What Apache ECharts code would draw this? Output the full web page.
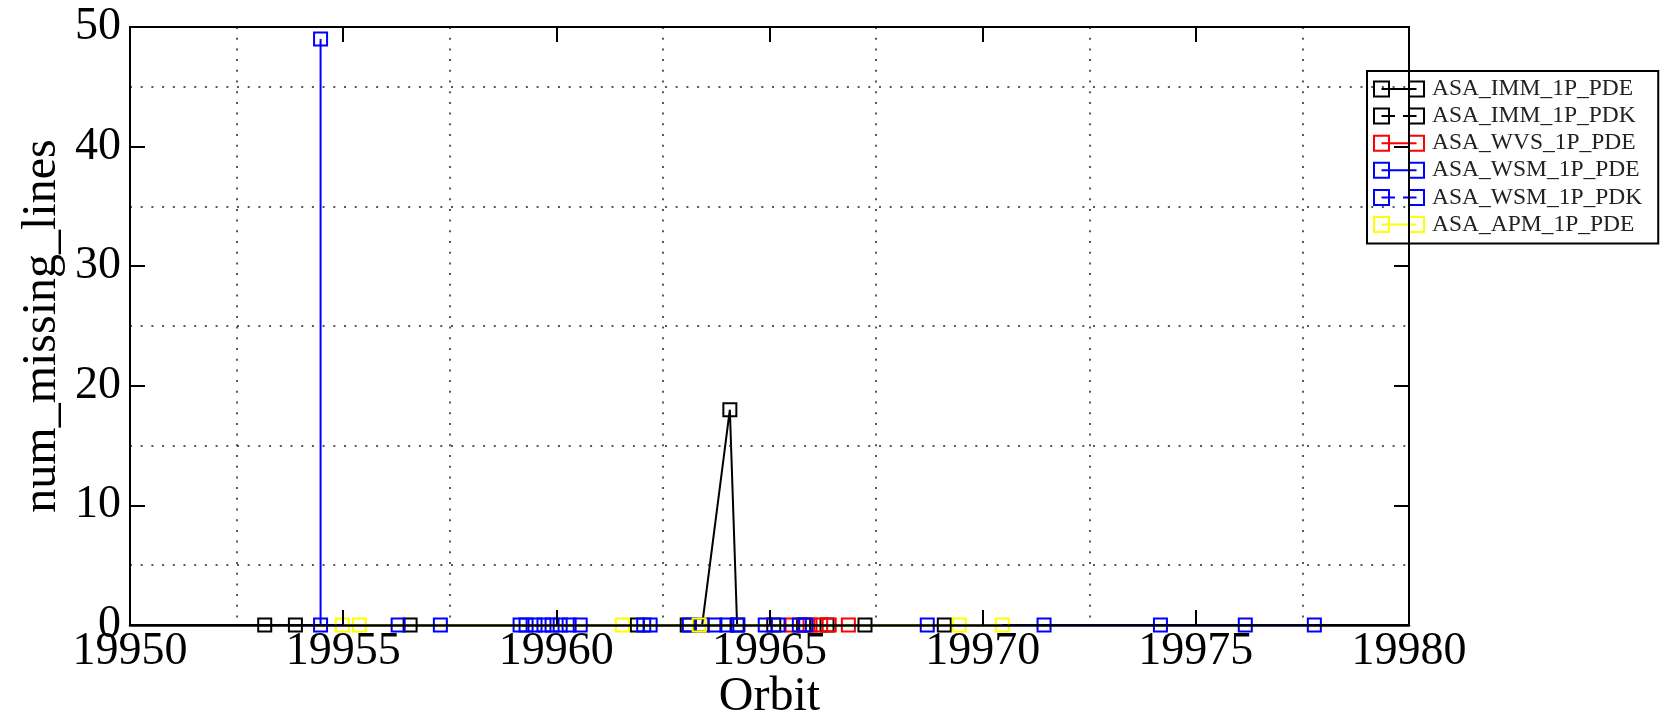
<!DOCTYPE html>
<html><head><meta charset="utf-8">
<script src="https://cdn.jsdelivr.net/npm/echarts@6/dist/echarts.min.js"></script>
<style>html,body{margin:0;padding:0;background:#fff}#c{width:1662px;height:724px}</style>
</head><body><div id="c"></div>
<script>
// ---- data ----
const xTickLabels = [19950, 19955, 19960, 19965, 19970, 19975, 19980];
const yTickLabels = [0, 10, 20, 30, 40, 50];

const seriesNames  = ['ASA_IMM_1P_PDE','ASA_IMM_1P_PDK','ASA_WVS_1P_PDE','ASA_WSM_1P_PDE','ASA_WSM_1P_PDK','ASA_APM_1P_PDE'];
const seriesColors = ['#000000','#000000','#ff0000','#0000ff','#0000ff','#ffff00'];
const seriesDashed = [false, true, false, false, true, false];

const immPdeOrbit = [19953.16, 19956.57, 19963.42, 19964.07, 19964.24, 19965.1, 19967.24];
const immPdeLines = [0, 0, 0, 18, 0, 0, 0];

const immPdkOrbit = [19953.88, 19961.9, 19963.07, 19965.8, 19966.35, 19969.1];
const immPdkLines = [0, 0, 0, 0, 0, 0];

const wvsPdeOrbit = [19965.53, 19965.95, 19966.2, 19966.4, 19966.85];
const wvsPdeLines = [0, 0, 0, 0, 0];

const wsmPdeOrbit = [19954.47, 19954.47, 19956.29, 19957.28, 19959.15, 19959.5, 19959.9, 19960.3, 19962.05, 19963.12, 19963.72, 19964.26, 19964.9, 19965.7, 19968.7, 19971.44, 19974.17, 19977.78];
const wsmPdeLines = [49, 0, 0, 0, 0, 0, 0, 0, 0, 0, 0, 0, 0, 0, 0, 0, 0, 0];

const wsmPdkOrbit = [19959.29, 19959.71, 19960.09, 19960.56, 19962.2, 19964.0, 19965.2, 19965.85, 19976.16];
const wsmPdkLines = [0, 0, 0, 0, 0, 0, 0, 0, 0];

const apmPdeOrbit = [19954.98, 19955.38, 19961.55, 19963.35, 19969.45, 19970.46];
const apmPdeLines = [0, 0, 0, 0, 0, 0];

const orbitSets = [immPdeOrbit, immPdkOrbit, wvsPdeOrbit, wsmPdeOrbit, wsmPdkOrbit, apmPdeOrbit];
const lineSets  = [immPdeLines, immPdkLines, wvsPdeLines, wsmPdeLines, wsmPdkLines, apmPdeLines];

// ---- chart ----
const FONT = 'Liberation Serif';
const squares = 'M0 0H17V17H0Z M2 2V15H15V2Z M35 0H52V17H35Z M37 2V15H50V2Z ';
const iconSolid  = 'path://' + squares + 'M8.5 7.5H43.5V9.5H8.5Z';
const iconDashed = 'path://' + squares + 'M8.5 7.5H22V9.5H8.5Z M30 7.5H43.5V9.5H30Z';

const dotted = {color: '#222', width: 1.5, type: [2, 8.7]};
const xMin = xTickLabels[0], xMax = xTickLabels[xTickLabels.length - 1];
const xInt = xTickLabels[1] - xTickLabels[0];
const yMin = yTickLabels[0], yMax = yTickLabels[yTickLabels.length - 1];
const yInt = yTickLabels[1] - yTickLabels[0];

const series = seriesNames.map((name, i) => ({
  name,
  type: 'line',
  xAxisIndex: 0, yAxisIndex: 0,
  data: orbitSets[i].map((x, k) => [x, lineSets[i][k]]),
  symbol: 'rect',
  symbolSize: 13,
  showAllSymbol: true,
  lineStyle: {color: seriesColors[i], width: 2, type: seriesDashed[i] ? 'dashed' : 'solid'},
  itemStyle: {color: 'rgba(0,0,0,0)', borderColor: seriesColors[i], borderWidth: 2},
  emphasis: {disabled: true},
  animation: false,
  z: 2
}));

const chart = echarts.init(document.getElementById('c'), null, {renderer: 'canvas'});
chart.setOption({
  backgroundColor: '#fff',
  animation: false,
  grid: {left: 130, right: 253, top: 27, bottom: 99, show: true, borderColor: '#000', borderWidth: 2,
         backgroundColor: 'rgba(0,0,0,0)', containLabel: false, outerBoundsMode: 'none'},
  legend: {
    orient: 'vertical', left: 1367, top: 71,
    padding: [6, 16, 7, 6],
    backgroundColor: '#fff', borderColor: '#000', borderWidth: 2,
    itemWidth: 56, itemHeight: 17, itemGap: 3.1,
    selectedMode: false,
    itemStyle: {borderWidth: 0},
    textStyle: {fontFamily: FONT, fontSize: 23.5, lineHeight: 23.5, color: '#222'},
    data: seriesNames.map((n, i) => ({
      name: n,
      icon: seriesDashed[i] ? iconDashed : iconSolid,
      itemStyle: {color: seriesColors[i], borderWidth: 0}
    }))
  },
  xAxis: [
    {
      type: 'value', min: xMin, max: xMax, interval: xInt, position: 'bottom', z: 5,
      axisLine: {show: true, onZero: false, lineStyle: {color: '#000', width: 2.5}},
      axisTick: {show: true, inside: true, length: 15, lineStyle: {color: '#000', width: 2}},
      axisLabel: {show: true, formatter: v => String(v), fontFamily: FONT, fontSize: 46, color: '#000', margin: 4},
      splitLine: {show: false},
      minorTick: {show: false, splitNumber: 2},
      minorSplitLine: {show: true, lineStyle: dotted},
      name: 'Orbit', nameLocation: 'middle', nameGap: 48, nameMoveOverlap: false,
      nameTextStyle: {fontFamily: FONT, fontSize: 48, color: '#000'}
    },
    {
      type: 'value', min: xMin, max: xMax, interval: xInt, position: 'top', z: 5,
      axisLine: {show: true, onZero: false, lineStyle: {color: '#000', width: 2}},
      axisTick: {show: true, inside: true, length: 15, lineStyle: {color: '#000', width: 2}},
      axisLabel: {show: false},
      splitLine: {show: false}
    }
  ],
  yAxis: [
    {
      type: 'value', min: yMin, max: yMax, interval: yInt, position: 'left', z: 5,
      axisLine: {show: true, onZero: false, lineStyle: {color: '#000', width: 2}},
      axisTick: {show: true, inside: true, length: 15, lineStyle: {color: '#000', width: 2}},
      axisLabel: {show: true, fontFamily: FONT, fontSize: 46, color: '#000', margin: 9},
      splitLine: {show: false},
      minorTick: {show: false, splitNumber: 2},
      minorSplitLine: {show: true, lineStyle: dotted},
      name: 'num_missing_lines', nameLocation: 'middle', nameGap: 64, nameRotate: 90, nameMoveOverlap: false,
      nameTextStyle: {fontFamily: FONT, fontSize: 48, color: '#000'}
    },
    {
      type: 'value', min: yMin, max: yMax, interval: yInt, position: 'right', z: 5,
      axisLine: {show: true, onZero: false, lineStyle: {color: '#000', width: 2}},
      axisTick: {show: true, inside: true, length: 15, lineStyle: {color: '#000', width: 2}},
      axisLabel: {show: false},
      splitLine: {show: false}
    }
  ],
  series
});
</script>
</body></html>
